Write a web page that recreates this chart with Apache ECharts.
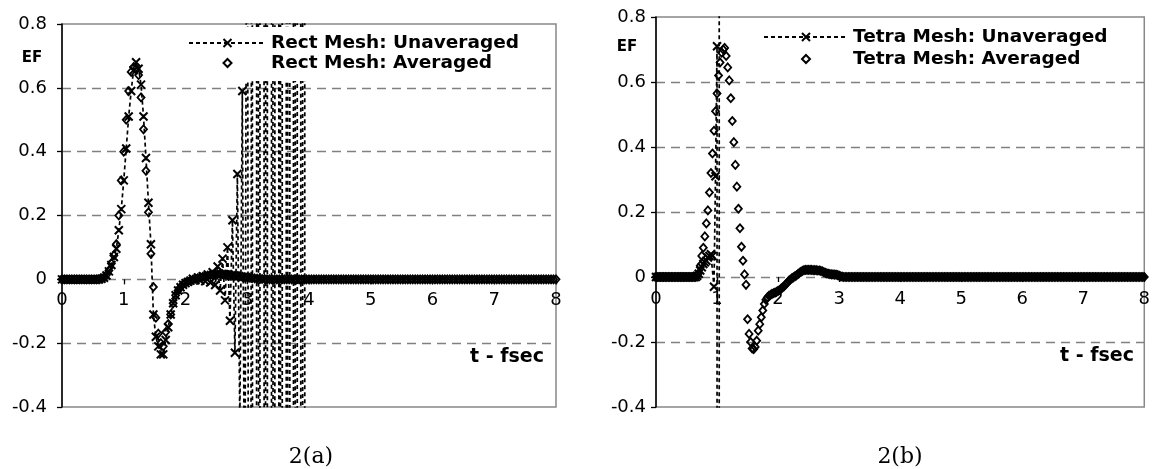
<!DOCTYPE html>
<html>
<head>
<meta charset="utf-8">
<script src="https://cdn.jsdelivr.net/npm/echarts@6/dist/echarts.min.js"></script>
<style>
html,body{margin:0;padding:0;background:#fff;}
#c{width:1153px;height:469px;}
</style>
</head>
<body>
<div id="c"></div>
<script>
// ---------- 2(a) Rect mesh, time step 0.04 fs ----------
const rectTime = [
0,0.04,0.08,0.12,0.16,0.2,0.24,0.28,0.32,0.36,0.4,0.44,0.48,0.52,0.56,0.6,0.64,0.68,0.72,0.76,0.8,0.84,0.88,0.92,0.96,
1,1.04,1.08,1.12,1.16,1.2,1.24,1.28,1.32,1.36,1.4,1.44,1.48,1.52,1.56,1.6,1.64,1.68,1.72,1.76,1.8,1.84,1.88,1.92,1.96,
2,2.04,2.08,2.12,2.16,2.2,2.24,2.28,2.32,2.36,2.4,2.44,2.48,2.52,2.56,2.6,2.64,2.68,2.72,2.76,2.8,2.84,2.88,2.92,2.96,
3,3.04,3.08,3.12,3.16,3.2,3.24,3.28,3.32,3.36,3.4,3.44,3.48,3.52,3.56,3.6,3.64,3.68,3.72,3.76,3.8,3.84,3.88,3.92,3.96,
4,4.04,4.08,4.12,4.16,4.2,4.24,4.28,4.32,4.36,4.4,4.44,4.48,4.52,4.56,4.6,4.64,4.68,4.72,4.76,4.8,4.84,4.88,4.92,4.96,
5,5.04,5.08,5.12,5.16,5.2,5.24,5.28,5.32,5.36,5.4,5.44,5.48,5.52,5.56,5.6,5.64,5.68,5.72,5.76,5.8,5.84,5.88,5.92,5.96,
6,6.04,6.08,6.12,6.16,6.2,6.24,6.28,6.32,6.36,6.4,6.44,6.48,6.52,6.56,6.6,6.64,6.68,6.72,6.76,6.8,6.84,6.88,6.92,6.96,
7,7.04,7.08,7.12,7.16,7.2,7.24,7.28,7.32,7.36,7.4,7.44,7.48,7.52,7.56,7.6,7.64,7.68,7.72,7.76,7.8,7.84,7.88,7.92,7.96,
8];
// Unaveraged: blows up after ~2.9 fs, data stops at 3.96
const rectUnaveraged = [
0,0,0,0,0, 0,0,0,0,0, 0,0,0,0,0, 0,0.002,0.005,0.012,0.025, 0.045,0.07,0.096,0.154,0.22,
0.31,0.41,0.51,0.59,0.655, 0.68,0.66,0.61,0.51,0.38, 0.24,0.11,-0.11,-0.18,-0.21, -0.235,-0.235,-0.19,-0.15,-0.11, -0.075,-0.05,-0.035,-0.025,-0.017,
-0.012,-0.008,-0.004,0.002,-0.003, 0.006,-0.004,0.01,-0.006,0.015, -0.01,0.022,-0.018,0.04,-0.035, 0.065,-0.066,0.1,-0.13,0.185, -0.23,0.33,-0.45,0.59,-0.95,
2.1,-4.5,3.2,-30,8, -6,40,-9,12,-70, 15,-20,90,-25,30, -150,40,-60,200,-80, 100,-300,150,-200,500];
const rectAveraged = [
0,0,0,0,0, 0,0,0,0,0, 0,0,0,0,0, 0,0.002,0.006,0.014,0.028, 0.05,0.075,0.11,0.2,0.31,
0.4,0.5,0.59,0.65,0.665, 0.66,0.64,0.57,0.47,0.34, 0.21,0.08,-0.024,-0.12,-0.17, -0.2,-0.21,-0.165,-0.14,-0.11, -0.075,-0.05,-0.035,-0.024,-0.016,
-0.011,-0.007,-0.004,-0.001,0.002, 0.004,0.006,0.008,0.01,0.012, 0.013,0.014,0.015,0.016,0.016, 0.016,0.015,0.014,0.013,0.012, 0.011,0.01,0.009,0.008,0.007,
0.006,0.005,0.004,0.003,0.002, 0.002,0.001,0.001,0,0, 0,0,0,0,0, 0,0,0,0,0, 0,0,0,0,0,
0,0,0,0,0, 0,0,0,0,0, 0,0,0,0,0, 0,0,0,0,0, 0,0,0,0,0,
0,0,0,0,0, 0,0,0,0,0, 0,0,0,0,0, 0,0,0,0,0, 0,0,0,0,0,
0,0,0,0,0, 0,0,0,0,0, 0,0,0,0,0, 0,0,0,0,0, 0,0,0,0,0,
0,0,0,0,0, 0,0,0,0,0, 0,0,0,0,0, 0,0,0,0,0, 0,0,0,0,0,
0];

// ---------- 2(b) Tetra mesh, time step 0.025 fs ----------
const tetraTime = [
0,0.025,0.05,0.075,0.1,0.125,0.15,0.175,0.2,0.225,0.25,0.275,0.3,0.325,0.35,0.375,0.4,0.425,0.45,0.475,0.5,0.525,0.55,0.575,0.6,0.625,0.65,0.675,0.7,0.725,0.75,0.775,0.8,0.825,0.85,0.875,0.9,0.925,0.95,0.975,
1,1.025,1.05,1.075,1.1,1.125,1.15,1.175,1.2,1.225,1.25,1.275,1.3,1.325,1.35,1.375,1.4,1.425,1.45,1.475,1.5,1.525,1.55,1.575,1.6,1.625,1.65,1.675,1.7,1.725,1.75,1.775,1.8,1.825,1.85,1.875,1.9,1.925,1.95,1.975,
2,2.025,2.05,2.075,2.1,2.125,2.15,2.175,2.2,2.225,2.25,2.275,2.3,2.325,2.35,2.375,2.4,2.425,2.45,2.475,2.5,2.525,2.55,2.575,2.6,2.625,2.65,2.675,2.7,2.725,2.75,2.775,2.8,2.825,2.85,2.875,2.9,2.925,2.95,2.975,
3,3.025,3.05,3.075,3.1,3.125,3.15,3.175,3.2,3.225,3.25,3.275,3.3,3.325,3.35,3.375,3.4,3.425,3.45,3.475,3.5,3.525,3.55,3.575,3.6,3.625,3.65,3.675,3.7,3.725,3.75,3.775,3.8,3.825,3.85,3.875,3.9,3.925,3.95,3.975,
4,4.025,4.05,4.075,4.1,4.125,4.15,4.175,4.2,4.225,4.25,4.275,4.3,4.325,4.35,4.375,4.4,4.425,4.45,4.475,4.5,4.525,4.55,4.575,4.6,4.625,4.65,4.675,4.7,4.725,4.75,4.775,4.8,4.825,4.85,4.875,4.9,4.925,4.95,4.975,
5,5.025,5.05,5.075,5.1,5.125,5.15,5.175,5.2,5.225,5.25,5.275,5.3,5.325,5.35,5.375,5.4,5.425,5.45,5.475,5.5,5.525,5.55,5.575,5.6,5.625,5.65,5.675,5.7,5.725,5.75,5.775,5.8,5.825,5.85,5.875,5.9,5.925,5.95,5.975,
6,6.025,6.05,6.075,6.1,6.125,6.15,6.175,6.2,6.225,6.25,6.275,6.3,6.325,6.35,6.375,6.4,6.425,6.45,6.475,6.5,6.525,6.55,6.575,6.6,6.625,6.65,6.675,6.7,6.725,6.75,6.775,6.8,6.825,6.85,6.875,6.9,6.925,6.95,6.975,
7,7.025,7.05,7.075,7.1,7.125,7.15,7.175,7.2,7.225,7.25,7.275,7.3,7.325,7.35,7.375,7.4,7.425,7.45,7.475,7.5,7.525,7.55,7.575,7.6,7.625,7.65,7.675,7.7,7.725,7.75,7.775,7.8,7.825,7.85,7.875,7.9,7.925,7.95,7.975,
8];
// Unaveraged: blows up at ~1 fs, data stops there
const tetraUnaveraged = [
0,0,0,0,0, 0,0,0,0,0, 0,0,0,0,0, 0,0,0,0,0, 0,0,0,0,0, 0,0,
0.004,0.01,0.02,0.03,0.04,0.045,0.05,0.06,0.065,0.07,0.065,-0.03,0.31,
0.71,-60,80];
const tetraAveraged = [
0,0,0,0,0, 0,0,0,0,0, 0,0,0,0,0, 0,0,0,0,0, 0,0,0,0,0, 0,0,
0.003,0.012,0.035,0.065,0.09,0.125,0.165,0.205,0.26,0.32,0.38,0.45,0.51,
0.565,0.62,0.66,0.69,0.70, 0.705,0.68,0.645,0.605,0.55, 0.48,0.415,0.345,0.278,0.21, 0.15,0.093,0.05,0.008,-0.024,
-0.13,-0.175,-0.2,-0.22,-0.222, -0.215,-0.196,-0.165,-0.145,-0.124, -0.103,-0.083,-0.07,-0.063,-0.058, -0.055,-0.052,-0.05,-0.048,-0.046,
-0.043,-0.04,-0.036,-0.032,-0.028, -0.023,-0.018,-0.012,-0.008,-0.004, -0.001,0.002,0.005,0.009,0.013, 0.016,0.019,0.021,0.022,0.022,
0.022,0.022,0.022,0.021,0.021, 0.021,0.02,0.02,0.019,0.017, 0.015,0.013,0.011,0.01,0.009, 0.008,0.008,0.007,0.007,0.006,
0.004,0.002,0.001,0,0, 0,0,0,0,0, 0,0,0,0,0, 0,0,0,0,0, 0,0,0,0,0, 0,0,0,0,0, 0,0,0,0,0, 0,0,0,0,0,
0,0,0,0,0, 0,0,0,0,0, 0,0,0,0,0, 0,0,0,0,0, 0,0,0,0,0, 0,0,0,0,0, 0,0,0,0,0, 0,0,0,0,0,
0,0,0,0,0, 0,0,0,0,0, 0,0,0,0,0, 0,0,0,0,0, 0,0,0,0,0, 0,0,0,0,0, 0,0,0,0,0, 0,0,0,0,0,
0,0,0,0,0, 0,0,0,0,0, 0,0,0,0,0, 0,0,0,0,0, 0,0,0,0,0, 0,0,0,0,0, 0,0,0,0,0, 0,0,0,0,0,
0,0,0,0,0, 0,0,0,0,0, 0,0,0,0,0, 0,0,0,0,0, 0,0,0,0,0, 0,0,0,0,0, 0,0,0,0,0, 0,0,0,0,0,
0];

const xTicks = [0, 8, 1];        // min, max, step (t - fsec)
const yTicks = [-0.4, 0.8, 0.2]; // min, max, step (EF)
const names = {
  rectU: 'Rect Mesh: Unaveraged', rectA: 'Rect Mesh: Averaged',
  tetU: 'Tetra Mesh: Unaveraged', tetA: 'Tetra Mesh: Averaged'
};

function pairs(times, vals) { return vals.map((v, i) => [times[i], v]); }

const labelFont = { fontFamily: '"DejaVu Sans", sans-serif', fontSize: 18, color: '#000' };
const xMark = 'path://M0,0L10,10M10,0L0,10';

function xAxisCfg(g, margin) {
  return {
    type: 'value', gridIndex: g, min: xTicks[0], max: xTicks[1], interval: xTicks[2],
    axisLine: { show: true, onZero: true, lineStyle: { color: 'rgba(0,0,0,0)', width: 1 } },
    axisTick: { show: true, length: 5, lineStyle: { color: '#000', width: 1.3 } },
    axisLabel: Object.assign({ margin: margin }, labelFont),
    splitLine: { show: false }
  };
}
function yAxisCfg(g, margin) {
  return {
    type: 'value', gridIndex: g, min: yTicks[0], max: yTicks[1], interval: yTicks[2],
    axisLine: { show: true, onZero: false, lineStyle: { color: '#000', width: 1.5 } },
    axisTick: { show: true, length: 5, lineStyle: { color: '#000', width: 1.3 } },
    axisLabel: Object.assign({ margin: margin }, labelFont),
    splitLine: { show: true, showMinLine: false, showMaxLine: false,
      lineStyle: { color: '#808080', type: [9, 6], width: 1.3 } }
  };
}
function unavgSeries(name, g, times, vals) {
  return {
    type: 'line', name: name, xAxisIndex: g, yAxisIndex: g,
    data: pairs(times, vals), symbol: xMark, symbolSize: 8, showSymbol: true,
    lineStyle: { color: '#000', width: 1.7, type: [4, 3] },
    itemStyle: { color: '#000', borderColor: '#000', borderWidth: 2 },
    clip: true, silent: true, z: 2, animation: false
  };
}
function avgSeries(name, g, times, vals) {
  return {
    type: 'line', name: name, xAxisIndex: g, yAxisIndex: g,
    data: pairs(times, vals), symbol: 'diamond', symbolSize: [7, 8], showSymbol: true,
    lineStyle: { width: 0, opacity: 0, color: '#000' },
    itemStyle: { color: 'rgba(255,255,255,0)', borderColor: '#000', borderWidth: 1.8 },
    clip: true, silent: true, z: 3, animation: false
  };
}
const legendText = { fontFamily: '"DejaVu Sans", sans-serif', fontWeight: 'bold', fontSize: 18.5, color: '#000', lineHeight: 20 };

const option = {
  animation: false,
  backgroundColor: '#fff',
  grid: [
    { left: 62, top: 24, width: 494, height: 383, show: true, borderColor: '#888', borderWidth: 1.5 },
    { left: 656, top: 17, width: 493, height: 390, show: true, borderColor: '#888', borderWidth: 1.5 }
  ],
  xAxis: [xAxisCfg(0, -116), xAxisCfg(1, -117)],
  yAxis: [yAxisCfg(0, 15), yAxisCfg(1, 10)],
  legend: [
    { data: [names.rectU, names.rectA], orient: 'vertical', left: 184, top: 27, padding: [6, 6, 8, 4],
      backgroundColor: '#fff', z: 10,
      itemWidth: 77, itemHeight: 10, itemGap: 0, selectedMode: false, textStyle: legendText },
    { data: [names.tetU, names.tetA], orient: 'vertical', left: 759, top: 21, padding: [6, 6, 8, 4],
      backgroundColor: '#fff', z: 10,
      itemWidth: 84, itemHeight: 10, itemGap: 2, selectedMode: false, textStyle: legendText }
  ],
  series: [
    unavgSeries(names.rectU, 0, rectTime, rectUnaveraged),
    avgSeries(names.rectA, 0, rectTime, rectAveraged),
    unavgSeries(names.tetU, 1, tetraTime, tetraUnaveraged),
    avgSeries(names.tetA, 1, tetraTime, tetraAveraged)
  ],
  graphic: [
    { type: 'text', x: 32, y: 58, z: 20, style: { text: 'EF', textAlign: 'center', textVerticalAlign: 'middle', font: 'bold 15px "DejaVu Sans"', fill: '#000' } },
    { type: 'text', x: 627, y: 47, z: 20, style: { text: 'EF', textAlign: 'center', textVerticalAlign: 'middle', font: 'bold 15px "DejaVu Sans"', fill: '#000' } },
    { type: 'text', x: 544, y: 357, z: 20, style: { text: 't - fsec', textAlign: 'right', textVerticalAlign: 'middle', font: 'bold 19px "DejaVu Sans"', fill: '#000' } },
    { type: 'text', x: 1134, y: 356, z: 20, style: { text: 't - fsec', textAlign: 'right', textVerticalAlign: 'middle', font: 'bold 19px "DejaVu Sans"', fill: '#000' } },
    { type: 'text', x: 311, y: 457, z: 20, style: { text: '2(a)', textAlign: 'center', textVerticalAlign: 'middle', font: '22px "DejaVu Serif"', fill: '#000' } },
    { type: 'text', x: 900, y: 457, z: 20, style: { text: '2(b)', textAlign: 'center', textVerticalAlign: 'middle', font: '22px "DejaVu Serif"', fill: '#000' } }
  ]
};
const chart = echarts.init(document.getElementById('c'));
chart.setOption(option);
</script>
</body>
</html>
